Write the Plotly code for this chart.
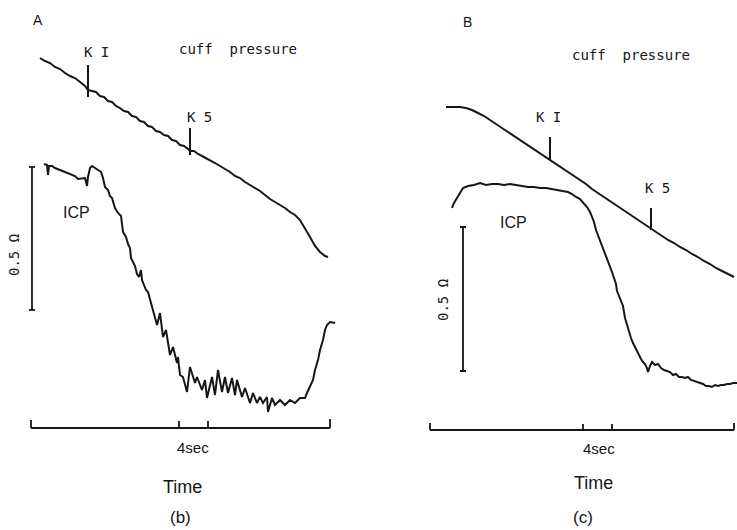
import plotly.graph_objects as go

# ---------------- Panel A  "(b)" ----------------
cuffA_x = [40,45,50,55,60,65,70,75,80,85,88,92,96,100,104,108,112,116,120,124,128,132,136,140,144,148,152,156,160,164,
           168,172,176,180,184,188,190,194,198,202,206,210,215,220,225,230,235,240,245,250,255,260,265,270,275,280,285,290,295,300,
           305,310,315,320,325,328]
cuffA_y = [58,61,63,67,69,73,76,78,82,86,90,91,92,96,97,101,102,106,108,111,112,116,117,121,122,126,127,131,132,135,
           136,140,141,145,146,149,151,151,154,156,158,160,163,166,169,172,176,178,182,185,188,191,195,199,202,205,208,212,215,220,
           228,237,246,252,256,257]

icpA_x = [44,47,48,49,52,55,60,65,70,75,78,82,85,87,88,90,92,95,98,101,103,105,108,110,112,115,118,121,123,126,
          128,130,131,133,135,137,139,141,142,144,146,148,150,153,157,160,163,166,170,173,177,178,180,183,187,190,193,195,197,202,
          205,207,212,215,218,222,225,228,232,235,237,242,245,250,253,257,260,263,267,268,272,275,280,285,290,295,300,305,307,310,
          313,315,318,320,323,325,327,330,335]
icpA_y = [164,165,175,166,166,168,170,172,174,176,179,178,178,186,177,168,166,168,170,172,178,187,190,196,198,208,213,216,232,237,
          244,248,258,262,266,274,277,270,280,285,290,292,300,310,325,313,337,330,355,347,363,357,375,377,392,367,378,383,377,390,
          380,398,377,395,370,392,377,393,378,395,380,397,388,403,393,403,397,403,397,412,398,405,400,405,400,403,398,398,393,387,
          380,370,360,350,340,330,325,322,323]

kA_x = [88, 190]
kA_top = [65, 128]
kA_bot = [97, 155]
kA_labels = ["K I", "K 5"]
kA_label_x = [96, 199]
kA_label_y = [52, 117]

barA_x = 32
barA_y = [167, 310]
timeA_y = 428
timeA_ticks = [31, 179, 208, 330]
timeA_tick_top = [420, 421, 421, 419]

# ---------------- Panel B  "(c)" ----------------
cuffB_x = [446,452,460,466,472,478,484,490,496,502,508,514,520,526,532,538,544,550,556,562,
           568,574,580,586,592,598,604,610,616,622,628,634,640,646,651,656,662,668,674,680,
           686,692,698,704,710,716,722,728,734]
cuffB_y = [107,107,107,108,110,113,116,120,124,128,132,136,140,144,148,152,156,160,164,168,
           172,176,180,184,189,193,197,201,205,209,213,217,221,225,229,232,236,240,243,247,
           250,254,257,261,264,268,271,274,277]

icpB_x = [452,454,457,460,463,468,474,480,486,492,498,504,510,516,522,528,534,540,546,552,
          558,564,568,572,576,580,584,587,590,592,594,596,598,600,602,604,606,608,610,612,
          614,616,617,619,621,623,625,627,629,631,633,635,637,639,641,643,645,647,648,650,
          652,655,658,661,664,667,670,673,676,679,682,685,688,691,694,697,700,703,706,709,
          712,715,718,721,724,727,730,733,737]
icpB_y = [208,203,198,193,188,186,185,183,185,184,184,185,184,185,186,187,187,188,188,189,
          190,191,192,194,197,199,203,207,212,217,222,230,235,240,246,250,256,261,267,272,
          278,284,291,296,301,306,318,325,333,338,343,347,351,356,359,362,364,368,372,366,
          362,365,364,368,370,371,372,375,374,377,377,378,377,380,381,382,383,384,386,386,
          387,385,386,385,385,384,384,383,383]

kB_x = [550, 651]
kB_top = [137, 208]
kB_bot = [160, 230]
kB_labels = ["K I", "K 5"]
kB_label_x = [548, 657]
kB_label_y = [117, 188]

barB_x = 463
barB_y = [227, 371]
timeB_y = 430
timeB_ticks = [430, 583, 612, 734]
timeB_tick_top = [423, 424, 424, 423]

INK = "#161616"
MONO = "DejaVu Sans Mono"
SANS = "Liberation Sans"


def seg_lines(x0s, y0s, x1s, y1s):
    xs, ys = [], []
    for a, b, c, d in zip(x0s, y0s, x1s, y1s):
        xs += [a, c, None]
        ys += [b, d, None]
    return xs, ys


fig = go.Figure()


def add_line(x, y, xa, width=2.0):
    fig.add_trace(go.Scatter(x=x, y=y, xaxis=xa, yaxis="y", mode="lines",
                             line=dict(color=INK, width=width, shape="linear"),
                             hoverinfo="skip", showlegend=False))


def panel(xa, cx, cy, ix, iy, kx, ktop, kbot, bx, by, ty, ticks, ttop):
    add_line(cx, cy, xa)
    add_line(ix, iy, xa)
    # K markers
    sx, sy = seg_lines(kx, ktop, kx, kbot)
    add_line(sx, sy, xa)
    # scale bar with caps
    sx, sy = seg_lines([bx, bx - 3, bx - 3], [by[0], by[0], by[1]],
                       [bx, bx + 3, bx + 3], [by[1], by[0], by[1]])
    add_line(sx, sy, xa, 1.8)
    # time axis with ticks
    sx, sy = seg_lines([ticks[0]] + ticks, [ty] + ttop,
                       [ticks[-1]] + ticks, [ty] + [ty] * len(ticks))
    add_line(sx, sy, xa, 1.8)


panel("x", cuffA_x, cuffA_y, icpA_x, icpA_y, kA_x, kA_top, kA_bot,
      barA_x, barA_y, timeA_y, timeA_ticks, timeA_tick_top)
panel("x2", cuffB_x, cuffB_y, icpB_x, icpB_y, kB_x, kB_top, kB_bot,
      barB_x, barB_y, timeB_y, timeB_ticks, timeB_tick_top)

# ---------------- texts ----------------
texts = [
    # xref, x, y, text, family, size, angle
    ("x", 38, 20, "A", SANS, 14, 0),
    ("x2", 467, 22, "B", SANS, 14, 0),
    ("x", 238, 49, "cuff\u00a0\u00a0pressure", MONO, 14, 0),
    ("x2", 631, 55, "cuff\u00a0\u00a0pressure", MONO, 14, 0),
    ("x", 76, 212, "ICP", SANS, 16, 0),
    ("x2", 513, 222, "ICP", SANS, 16, 0),
    ("x", 14, 255, "0.5\u00a0Ω", MONO, 14, -90),
    ("x2", 443, 300, "0.5\u00a0Ω", MONO, 14, -90),
    ("x", 193, 447, "4sec", SANS, 15, 0),
    ("x2", 599, 448, "4sec", SANS, 15, 0),
    ("x", 182, 487, "Time", SANS, 18, 0),
    ("x2", 593, 483, "Time", SANS, 18, 0),
    ("x", 180, 517, "(b)", SANS, 17, 0),
    ("x2", 583, 517, "(c)", SANS, 17, 0),
]
for lx, ly, lt in zip(kA_label_x, kA_label_y, kA_labels):
    texts.append(("x", lx, ly, lt, MONO, 14, 0))
for lx, ly, lt in zip(kB_label_x, kB_label_y, kB_labels):
    texts.append(("x2", lx, ly, lt, MONO, 14, 0))

for xr, x, y, t, fam, sz, ang in texts:
    fig.add_annotation(xref=xr, yref="y", x=x, y=y, text=t, showarrow=False,
                       xanchor="center", yanchor="middle", textangle=ang,
                       font=dict(family=fam, size=sz, color=INK))

fig.update_layout(
    width=737, height=530,
    margin=dict(l=0, r=0, t=0, b=0),
    paper_bgcolor="white", plot_bgcolor="white",
    showlegend=False,
    xaxis=dict(domain=[0, 0.5], range=[0, 368.5], visible=False, fixedrange=True),
    xaxis2=dict(domain=[0.5, 1], range=[368.5, 737], visible=False, fixedrange=True, anchor="y"),
    yaxis=dict(range=[530, 0], visible=False, fixedrange=True),
)

fig.write_html("out.html")
